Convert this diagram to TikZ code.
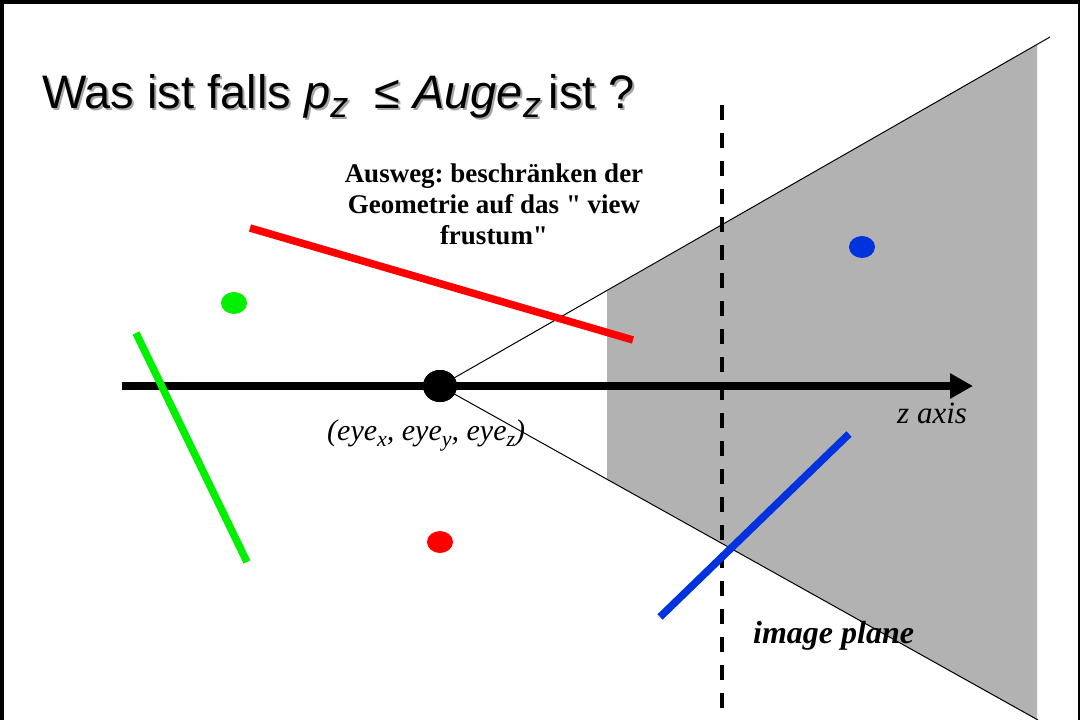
\documentclass[tikz,border=0pt]{standalone}
\usepackage{fontspec}
\setmainfont{Liberation Serif}
\newfontfamily\plainserif[Ligatures=TeXOff]{Liberation Serif}
\newfontfamily\titlefont{Liberation Sans}
\usetikzlibrary{arrows.meta,shapes.geometric}
\definecolor{frustgray}{RGB}{178,178,178}
\definecolor{myred}{RGB}{255,0,0}
\definecolor{mygreen}{RGB}{0,240,0}
\definecolor{myblue}{RGB}{0,51,221}
\newcommand\lsub[3]{\raisebox{-#1}{\fontsize{#2}{#2}\selectfont #3}}
\begin{document}
\frenchspacing
\begin{tikzpicture}[x=1pt,y=-1pt,
  thinline/.style={line width=1pt,black},
  colline/.style={line width=7.5pt},
  dotnode/.style={ellipse,fill=#1,minimum width=26pt,minimum height=22pt,inner sep=0pt},
  lbl/.style={inner sep=0pt},
  titletext/.style={inner sep=0pt,anchor=base west,font=\titlefont\fontsize{47}{56}\selectfont}]
\path[use as bounding box] (0,0) rectangle (1080,720);
\clip (0,0) rectangle (1080,720);
\fill[white] (0,0) rectangle (1080,720);

% frustum region
\coordinate (ftop) at (1050,37);
\coordinate (fbot) at (1038,720);
\fill[frustgray] (607,291) -- (1037,44.5) -- (1037,720) -- (607,479) -- cycle;

% eye
\node[ellipse,fill=black,minimum width=34pt,minimum height=32pt,inner sep=0pt] (eye) at (440,386) {};
\draw[thinline] (eye.center) -- (ftop);
\draw[thinline] (eye.center) -- (fbot);

% z axis
\coordinate (zstart) at (122,386);
\coordinate (zend) at (973,386);
\draw[line width=8pt,-{Triangle[length=23pt,width=24pt]}] (zstart) -- (zend);
\node[ellipse,fill=black,minimum width=34pt,minimum height=32pt,inner sep=0pt] at (eye.center) {};

% image plane
\coordinate (ptop) at (722,105);
\coordinate (pbot) at (722,722);
\draw[line width=4.5pt,dash pattern=on 15pt off 13pt] (ptop) -- (pbot);

% coloured segments
\coordinate (r1) at (250,228); \coordinate (r2) at (633,340);
\coordinate (g1) at (136,333); \coordinate (g2) at (247,562);
\coordinate (b1) at (660,617); \coordinate (b2) at (849,434);
\draw[colline,myred] (r1) -- (r2);
\draw[colline,mygreen] (g1) -- (g2);
\draw[colline,myblue] (b1) -- (b2);

% dots
\node[dotnode=mygreen] (gdot) at (234,303) {};
\node[dotnode=myblue] (bdot) at (862,247) {};
\node[dotnode=myred] (rdot) at (440,542) {};

% labels
\node[lbl,anchor=base west,font=\fontsize{31}{36}\selectfont] (zlbl) at (897,423) {\itshape z axis};
\node[lbl,anchor=base west,font=\fontsize{30}{36}\selectfont] (eyelbl) at (327,440)
  {\itshape (eye\lsub{6pt}{22pt}{x}, eye\lsub{6pt}{22pt}{y}, eye\lsub{6pt}{22pt}{z})};
\node[lbl,anchor=base west,font=\fontsize{32}{36}\selectfont] (imglbl) at (753,643) {\bfseries\itshape image plane};
\node[inner sep=0pt,anchor=north,align=center,font=\plainserif\bfseries\fontsize{27}{31}\selectfont] (ausweg) at (494,164)
  {Ausweg: beschränken der\\Geometrie auf das " view\\frustum"};

% title with shadow
\node[titletext,text=black!35] (titleshadow) at (44,110) {Was ist falls \textit{p}\lsub{9pt}{36pt}{\itshape z}~~≤ \textit{Auge}\lsub{9pt}{36pt}{\itshape z}\,ist ?};
\node[titletext] (title) at (42,108) {Was ist falls \textit{p}\lsub{9pt}{36pt}{\itshape z}~~≤ \textit{Auge}\lsub{9pt}{36pt}{\itshape z}\,ist ?};

% frame
\draw[line width=4pt] (2,2) rectangle (1080,722);
\end{tikzpicture}
\end{document}
